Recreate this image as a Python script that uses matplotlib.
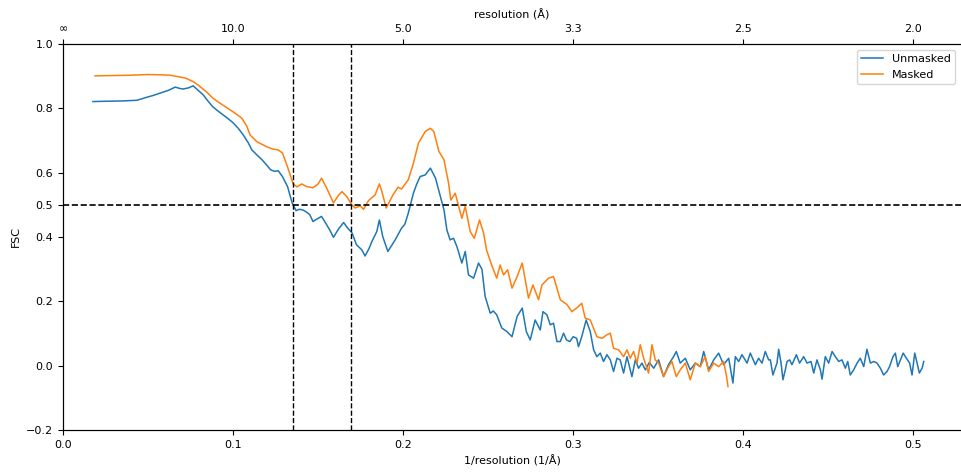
import numpy as np
import matplotlib
matplotlib.use("Agg")
import matplotlib.pyplot as plt

plt.rcParams['font.size'] = 8

# FSC curves
unmasked_x = [0.0176, 0.025, 0.035, 0.0435, 0.049, 0.053, 0.057, 0.062, 0.066, 0.0685,
              0.0706, 0.074, 0.0765, 0.079, 0.0824, 0.085, 0.088, 0.091, 0.094, 0.097,
              0.100, 0.103, 0.106, 0.109, 0.111, 0.114, 0.117, 0.120, 0.122, 0.1245,
              0.1265, 0.129, 0.132, 0.1347, 0.137, 0.139, 0.141, 0.1424, 0.145, 0.147,
              0.149, 0.152, 0.155, 0.157, 0.159, 0.162, 0.165, 0.167, 0.170, 0.1725,
              0.1757, 0.1776, 0.180, 0.1816, 0.1845, 0.186, 0.188, 0.191, 0.193, 0.1953,
              0.199, 0.201, 0.203, 0.206, 0.208, 0.210, 0.213, 0.216, 0.219, 0.2214,
              0.224, 0.2257, 0.2276, 0.2296, 0.2316, 0.2345, 0.2365, 0.2384, 0.2414, 0.2443,
              0.2463, 0.2482, 0.2512, 0.253, 0.255, 0.258, 0.261, 0.264, 0.267, 0.270,
              0.2724, 0.2747, 0.2776, 0.2806, 0.2822, 0.2845, 0.2865, 0.2884, 0.2904, 0.2924,
              0.2943, 0.296, 0.298, 0.300, 0.302, 0.3031, 0.305, 0.3076,
              0.310, 0.312, 0.3139, 0.3159, 0.3178, 0.3198, 0.3218, 0.3237, 0.3257, 0.3276,
              0.3296, 0.3316, 0.3345, 0.3365, 0.3384, 0.3404, 0.3424, 0.3447, 0.3473, 0.3502,
              0.3531, 0.356, 0.359, 0.3606, 0.3629, 0.3659, 0.3688, 0.3718, 0.3747, 0.3767,
              0.3796, 0.3826, 0.3855, 0.3884, 0.3914, 0.3939, 0.3953, 0.3973, 0.3992, 0.4022,
              0.4041, 0.4071, 0.409, 0.411, 0.4129, 0.4149,
              0.4159, 0.4174, 0.4198, 0.4208, 0.4222, 0.4233, 0.4247, 0.4257, 0.4272, 0.4286,
              0.4312, 0.4331, 0.4355, 0.4375, 0.4398, 0.4414, 0.4433, 0.4453, 0.4463, 0.4482,
              0.4502, 0.4522, 0.4541, 0.4561, 0.458, 0.46, 0.4614, 0.4629, 0.4649, 0.4669,
              0.4688, 0.4708, 0.4727, 0.4747, 0.4767, 0.4786, 0.4806, 0.4825, 0.4845, 0.486,
              0.488, 0.4894, 0.4908, 0.4924, 0.494, 0.4959, 0.4978, 0.4992, 0.5008, 0.5022,
              0.5035, 0.5051, 0.5061]
unmasked_fsc = [0.821, 0.822, 0.823, 0.825, 0.834, 0.840, 0.847, 0.856, 0.866, 0.862,
                0.860, 0.864, 0.870, 0.858, 0.842, 0.824, 0.805, 0.792, 0.780, 0.768,
                0.755, 0.738, 0.717, 0.692, 0.671, 0.655, 0.640, 0.622, 0.609, 0.604,
                0.606, 0.588, 0.557, 0.506, 0.482, 0.486, 0.484, 0.480, 0.470, 0.448,
                0.455, 0.464, 0.438, 0.420, 0.399, 0.425, 0.445, 0.430, 0.412, 0.376,
                0.360, 0.341, 0.365, 0.386, 0.417, 0.453, 0.401, 0.355, 0.372, 0.391,
                0.427, 0.440, 0.474, 0.536, 0.565, 0.588, 0.593, 0.614, 0.583, 0.536,
                0.484, 0.422, 0.391, 0.396, 0.370, 0.319, 0.355, 0.282, 0.272, 0.319,
                0.300, 0.215, 0.163, 0.170, 0.158, 0.117, 0.106, 0.090, 0.153, 0.179,
                0.106, 0.080, 0.142, 0.111, 0.168, 0.158, 0.127, 0.132, 0.075, 0.075,
                0.101, 0.080, 0.075, 0.090, 0.085, 0.059, 0.090, 0.142,
                0.106, 0.049, 0.028, 0.039, 0.013, 0.034, 0.018, -0.018, 0.023, 0.018,
                -0.023, 0.028, -0.034, 0.018, -0.008, 0.008, -0.013, 0.010, -0.008, 0.018,
                -0.034, 0.003, 0.028, 0.044, 0.008, 0.023, -0.013, 0.008, -0.003, 0.044,
                -0.013, 0.018, 0.039, 0.003, 0.023, -0.054, 0.028, 0.013, 0.034, 0.008,
                0.039, 0.003, 0.023, 0.008, 0.044, 0.018,
                0.018, -0.029, 0.008, 0.051, 0.008, -0.044, -0.013, 0.013, 0.018, 0.003,
                0.034, 0.008, 0.028, 0.008, 0.013, -0.023, 0.018, -0.013, -0.042, 0.028,
                0.008, 0.044, 0.028, 0.013, 0.018, -0.008, 0.013, -0.029, -0.013, 0.008,
                0.023, -0.003, 0.051, 0.008, 0.013, 0.008, -0.008, -0.029, -0.018, -0.003,
                0.028, 0.039, -0.003, 0.018, 0.039, 0.023, 0.008, -0.029, 0.039, 0.008,
                -0.023, -0.008, 0.013]

masked_x = [0.0188, 0.030, 0.040, 0.050, 0.058, 0.063, 0.068, 0.072, 0.0765, 0.080,
            0.085, 0.088, 0.092, 0.096, 0.100, 0.105, 0.108, 0.110, 0.114, 0.117,
            0.120, 0.1235, 0.1265, 0.129, 0.132, 0.1353, 0.1376, 0.1404, 0.143, 0.147,
            0.150, 0.152, 0.155, 0.159, 0.162, 0.164, 0.1668, 0.1698, 0.1718, 0.1747,
            0.1767, 0.1796, 0.1835, 0.186, 0.1875, 0.190, 0.194, 0.197, 0.199, 0.203,
            0.206, 0.209, 0.213, 0.216, 0.218, 0.221, 0.224, 0.2267, 0.228, 0.2306,
            0.2345, 0.2365, 0.2394, 0.2418, 0.2449, 0.2473, 0.249, 0.252, 0.255, 0.257,
            0.259, 0.2614, 0.264, 0.267, 0.270, 0.2737, 0.2763, 0.2796, 0.2816, 0.2855,
            0.2884, 0.2924, 0.2963, 0.2992, 0.302, 0.305, 0.307,
            0.310, 0.3139, 0.3169, 0.3198, 0.3218, 0.3237, 0.3267, 0.3296, 0.3316, 0.3335,
            0.3355, 0.3375, 0.3394, 0.3414, 0.3443, 0.3463, 0.3482, 0.3502, 0.3531, 0.356,
            0.358, 0.3606, 0.3629, 0.3659, 0.3688, 0.3718, 0.3747, 0.3776, 0.3796, 0.3826,
            0.3855, 0.3884, 0.390, 0.391]
masked_fsc = [0.901, 0.902, 0.903, 0.905, 0.904, 0.903, 0.898, 0.894, 0.883, 0.870,
              0.848, 0.832, 0.817, 0.803, 0.789, 0.770, 0.745, 0.717, 0.696, 0.688,
              0.680, 0.673, 0.671, 0.661, 0.618, 0.565, 0.556, 0.565, 0.557, 0.553,
              0.565, 0.583, 0.552, 0.506, 0.530, 0.541, 0.526, 0.500, 0.490, 0.497,
              0.486, 0.513, 0.531, 0.565, 0.541, 0.490, 0.531, 0.555, 0.549, 0.578,
              0.629, 0.692, 0.728, 0.738, 0.728, 0.666, 0.640, 0.567, 0.515, 0.536,
              0.458, 0.495, 0.417, 0.396, 0.453, 0.412, 0.360, 0.313, 0.272, 0.313,
              0.282, 0.298, 0.241, 0.277, 0.319, 0.210, 0.251, 0.205, 0.251, 0.272,
              0.277, 0.205, 0.190, 0.168, 0.179, 0.194, 0.148,
              0.142, 0.090, 0.085, 0.096, 0.101, 0.054, 0.049, 0.028, 0.049, 0.023,
              0.044, 0.008, 0.065, 0.023, -0.023, 0.065, 0.018, 0.008, -0.034, -0.003,
              0.013, -0.034, -0.013, 0.008, -0.044, 0.008, -0.003, 0.028, -0.018, 0.008,
              -0.003, 0.013, -0.029, -0.065]

# resolution cut-offs (1/Å)
cutoffs = [0.1353, 0.1694]
threshold = 0.5

top_ticks = [0.0, 0.1, 0.2, 0.3, 0.4, 0.5]
top_labels = ["∞", "10.0", "5.0", "3.3", "2.5", "2.0"]
y_ticks = [-0.2, 0.0, 0.2, 0.4, 0.5, 0.6, 0.8, 1.0]

fig = plt.figure(figsize=(9.61, 4.72), dpi=100)
ax = fig.add_axes([0.0656, 0.089, 0.9344, 0.8178])

ax.plot(unmasked_x, unmasked_fsc, color='tab:blue', lw=1.1, label='Unmasked')
ax.plot(masked_x, masked_fsc, color='tab:orange', lw=1.1, label='Masked')

ax.axhline(threshold, color='k', ls='--', lw=1.2)
for c in cutoffs:
    ax.axvline(c, color='k', ls='--', lw=1.0)

ax.set_xlim(0, 0.528)
ax.set_ylim(-0.2, 1.0)
ax.set_yticks(y_ticks)
ax.set_xlabel("1/resolution (1/Å)")
ax.set_ylabel("FSC")
ax.spines['right'].set_visible(False)

ax2 = ax.twiny()
ax2.set_xlim(ax.get_xlim())
ax2.set_xticks(top_ticks)
ax2.set_xticklabels(top_labels)
ax2.set_xlabel("resolution (Å)")
ax2.spines['right'].set_visible(False)

ax.legend(loc='upper right')

fig.savefig("out.png", dpi=100)
